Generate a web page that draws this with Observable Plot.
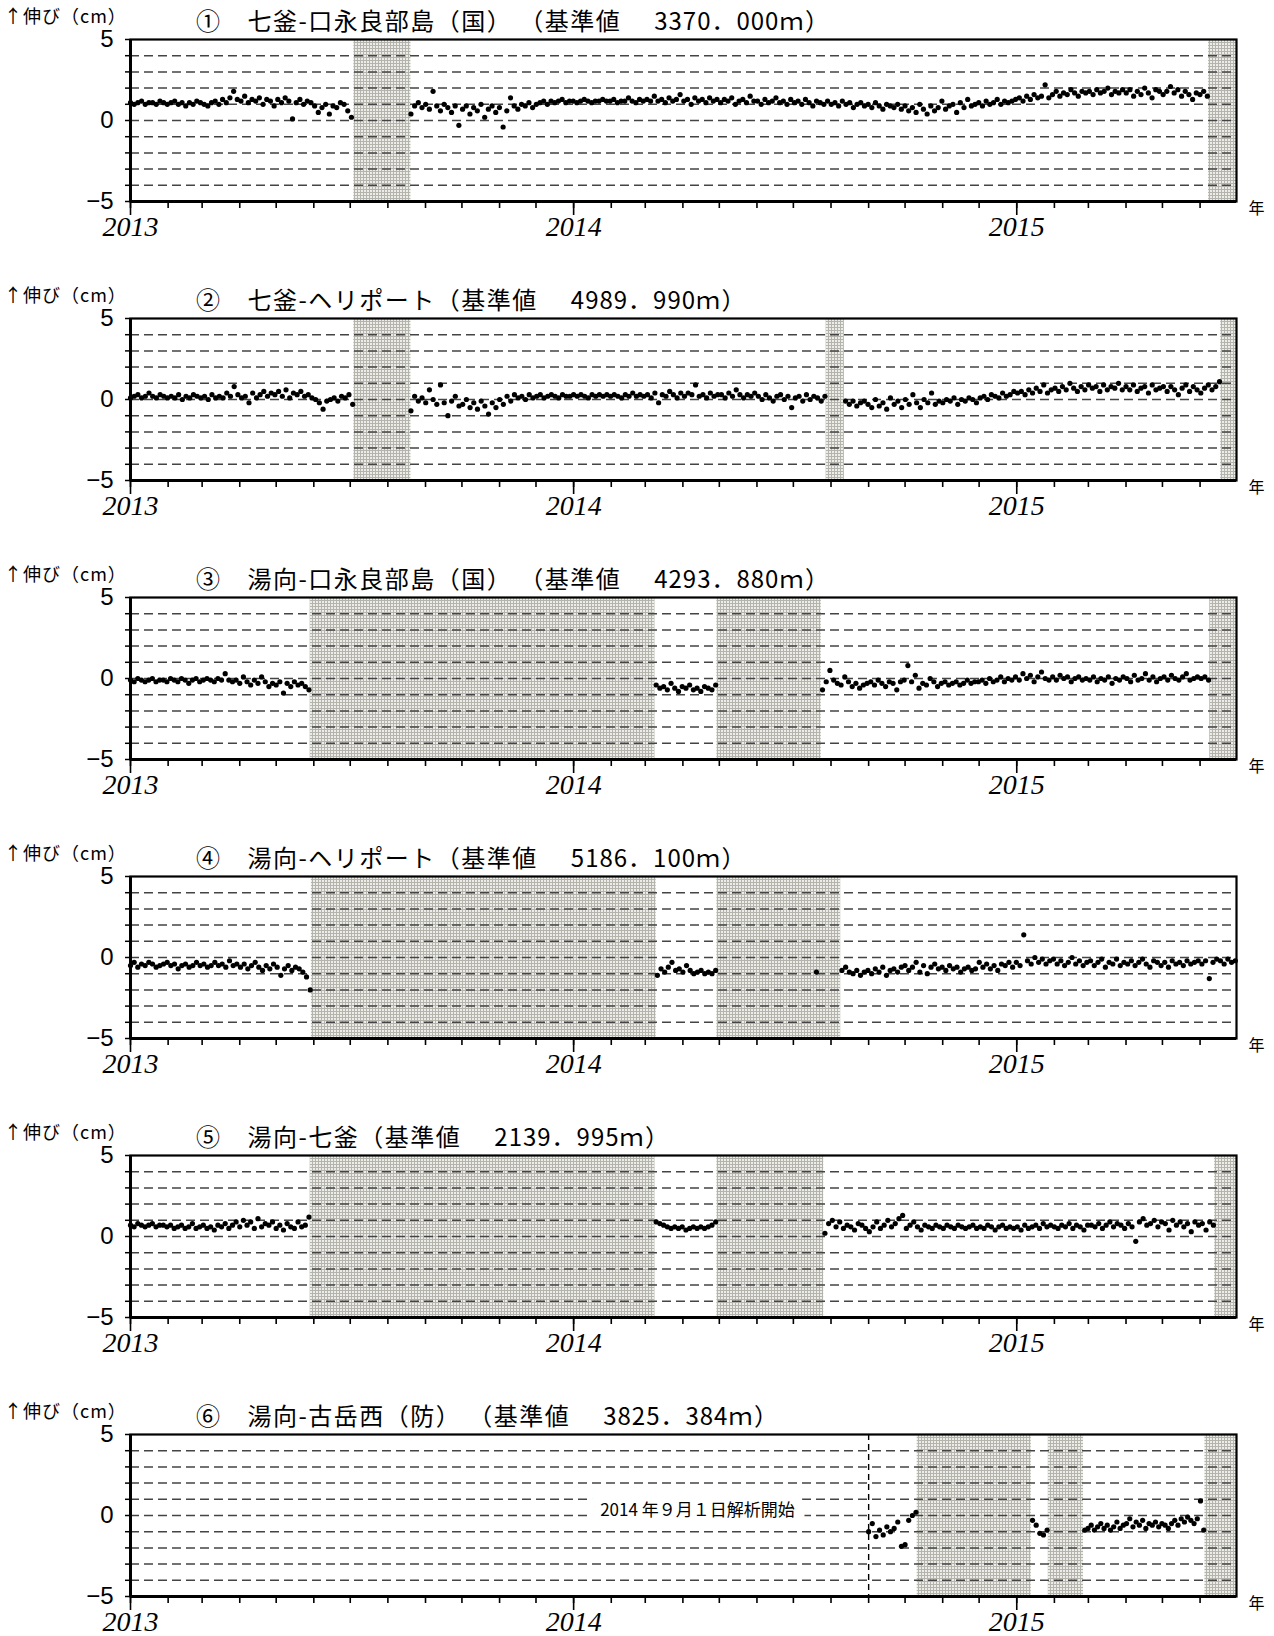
<!DOCTYPE html>
<html><head><meta charset="utf-8">
<script src="https://cdn.jsdelivr.net/npm/d3@7"></script>
<script src="https://cdn.jsdelivr.net/npm/@observablehq/plot@0.6"></script>
<style>
body{margin:0;background:#fff;width:1274px;height:1636px;overflow:hidden;}
.panel{position:relative;width:1274px;height:279px;}
.panel svg{position:absolute;left:0;top:0;}
.title{position:absolute;left:196px;top:6px;font-family:"Noto Sans CJK JP";font-size:24px;line-height:28px;white-space:nowrap;color:#000;letter-spacing:1.5px;}
.title .route{margin-left:26px;}
.title .len{margin-left:33px;letter-spacing:1px;}
.ylab{position:absolute;left:4px;top:8px;font-family:"Noto Sans CJK JP";font-size:18px;line-height:14px;height:14px;white-space:nowrap;color:#000;letter-spacing:1px;}
</style></head><body>
<svg width="0" height="0" style="position:absolute"><defs>
<pattern id="stipple" width="3" height="3" patternUnits="userSpaceOnUse">
<rect width="3" height="3" fill="#ecece8"/><rect width="3" height="1" fill="#b4b4ac"/><rect width="1" height="3" fill="#b4b4ac"/>
</pattern></defs></svg>
<div id="chart"></div>
<script>
// ---------- text ----------
const circledNumbers = ["①","②","③","④","⑤","⑥"];
const routeNames = ["七釜-口永良部島（国） （基準値","七釜-ヘリポート（基準値","湯向-口永良部島（国） （基準値","湯向-ヘリポート（基準値","湯向-七釜（基準値","湯向-古岳西（防） （基準値"];
const baseLengths = ["3370．000","4989．990","4293．880","5186．100","2139．995","3825．384"];
const yAxisLabel = "↑伸び（cm）";
const yearUnit = "年";

// ---------- axes ----------
const xDomain = ["2013-01-01","2015-07-01"];
const yearTicks = ["2013-01-01","2014-01-01","2015-01-01"];
const yTickValues = [-5,-4,-3,-2,-1,0,1,2,3,4,5];
const yLabelledTicks = [-5,0,5];
const gridValues = [-4,-3,-2,-1,0,1,2,3,4];

// ---------- missing-data (shaded) periods ----------
const gaps1 = [["2013-07-04","2013-08-20"],["2015-06-08","2015-07-01"]];
const gaps2 = [["2013-07-04","2013-08-20"],["2014-07-28","2014-08-12"],["2015-06-18","2015-07-01"]];
const gaps3 = [["2013-05-29","2014-03-09"],["2014-04-29","2014-07-24"],["2015-06-09","2015-07-01"]];
const gaps4 = [["2013-05-30","2014-03-10"],["2014-04-29","2014-08-09"]];
const gaps5 = [["2013-05-29","2014-03-09"],["2014-04-29","2014-07-26"],["2015-06-13","2015-07-01"]];
const gaps6 = [["2014-10-11","2015-01-13"],["2015-01-27","2015-02-25"],["2015-06-05","2015-07-01"]];

// ---------- series (cm), each segment spans [start, end] ----------
const p1a = [1.1,1.0,1.1,1.2,1.0,1.1,1.1,1.0,1.2,1.1,1.0,
 1.1,1.2,1.0,1.1,0.9,1.1,1.0,1.2,1.1,
 1.0,0.9,1.1,1.2,1.0,1.3,1.1,1.4,1.8,1.3,
 1.2,1.5,1.1,1.3,1.2,1.4,1.0,1.3,1.2,0.9,
 1.3,1.1,1.4,1.2,0.1,1.1,1.3,1.0,1.2,1.1,
 0.9,0.5,0.8,1.0,0.4,0.9,0.8,1.1,1.0,0.6,0.2];
const p1b = [0.4,0.9,1.1,0.8,
 1.0,0.7,1.8,0.9,0.6,1.0,0.8,0.5,0.9,-0.3,
 0.7,0.9,0.4,0.8,0.6,1.0,0.2,0.7,0.9,0.5,
 0.8,-0.4,0.6,1.4,0.9,0.7,1.0,0.9,1.1,0.8,
 1.0,1.1,1.2,1.0,1.2,1.1,1.2,1.3,1.1,1.2,
 1.2,1.1,1.2,1.3,1.2,1.1,1.2,1.2,1.3,1.2,
 1.2,1.3,1.1,1.2,1.2,1.4,1.2,1.1,1.3,1.2,
 1.3,1.2,1.5,1.2,1.3,1.1,1.4,1.2,1.3,1.6,
 1.2,1.3,1.0,1.4,1.2,1.3,1.1,1.4,1.2,1.3,
 1.1,1.3,1.2,1.4,1.0,1.2,1.3,1.1,1.5,1.2,
 1.2,1.0,1.3,1.1,1.2,1.4,1.1,1.2,1.0,1.3,
 1.1,1.2,1.0,1.3,1.1,0.9,1.2,1.1,1.0,1.2,
 1.0,1.1,0.9,1.2,1.0,1.1,0.8,1.0,1.1,0.9,
 1.0,0.8,1.1,0.9,0.7,1.0,0.9,0.8,1.0,0.7,
 0.9,0.6,0.8,0.5,1.0,0.7,0.4,0.9,0.6,0.8,
 1.2,0.7,0.9,1.0,0.5,1.1,0.8,1.3,0.9,1.0,
 1.1,0.9,1.2,1.0,1.1,1.3,1.0,1.2,1.1,1.2,
 1.3,1.4,1.2,1.5,1.3,1.6,1.4,1.5,2.2,1.4,
 1.6,1.8,1.5,1.7,1.6,1.9,1.7,1.5,1.8,1.7,
 1.8,1.6,1.9,1.7,1.8,2.0,1.6,1.8,1.7,1.9,
 1.7,1.9,1.5,1.8,1.6,2.0,1.7,1.4,1.9,1.8,
 1.6,1.8,2.1,1.7,1.9,1.5,1.8,1.6,1.3,1.7,
 1.6,1.8,1.5];

const p2a = [0.1,0.2,0.3,0.1,0.2,0.4,0.2,0.1,0.3,0.2,0.1,
 0.2,0.1,0.3,0.0,0.2,0.1,0.3,0.2,0.1,
 0.2,0.0,0.3,0.1,0.2,0.1,0.4,0.2,0.8,0.3,
 0.1,0.2,-0.2,0.4,0.1,0.3,0.5,0.2,0.4,0.3,
 0.5,0.2,0.6,0.1,0.4,0.3,0.5,0.2,0.3,0.1,
 0.0,-0.2,-0.6,-0.1,0.0,0.1,-0.1,0.2,0.1,0.3,-0.3];
const p2b = [-0.7,0.2,-0.1,0.1,
 -0.2,0.6,0.0,-0.3,0.9,-0.2,-1.0,-0.1,0.2,-0.4,
 -0.3,0.0,-0.5,-0.2,-0.6,-0.1,-0.4,-0.9,-0.2,-0.5,
 0.0,-0.3,0.2,-0.1,0.3,0.1,0.2,0.0,0.3,0.1,
 0.2,0.3,0.1,0.2,0.3,0.2,0.1,0.3,0.2,0.2,
 0.3,0.2,0.3,0.2,0.1,0.3,0.2,0.3,0.2,0.3,
 0.2,0.3,0.2,0.1,0.3,0.2,0.4,0.2,0.3,0.2,
 0.3,0.1,0.4,-0.2,0.3,0.2,0.5,0.3,0.1,0.4,
 0.2,0.4,0.3,0.9,0.2,0.3,0.1,0.4,0.2,0.3,
 0.3,0.1,0.4,0.2,0.6,0.3,0.1,0.3,0.2,0.4,
 0.2,0.0,0.3,0.1,-0.1,0.2,0.3,0.0,0.2,-0.5,
 0.1,0.2,-0.1,0.3,0.0,0.2,0.1,-0.1,0.2];
const p2c = [-0.1,-0.3,-0.1,-0.4,-0.2,-0.1,
 -0.3,-0.5,0.0,-0.4,-0.2,-0.6,0.1,-0.3,-0.1,-0.5,
 0.0,-0.3,0.3,-0.2,-0.5,0.0,-0.2,0.4,-0.3,-0.1,
 -0.2,0.0,-0.1,0.1,-0.3,0.0,-0.1,0.1,0.0,-0.2,
 0.1,0.2,0.0,0.3,0.2,0.1,0.4,0.2,0.3,0.5,
 0.4,0.5,0.3,0.6,0.4,0.7,0.5,0.9,0.4,0.6,
 0.7,0.5,0.8,0.6,1.0,0.7,0.5,0.8,0.6,0.9,
 0.7,0.8,0.5,0.9,0.6,0.8,0.7,1.0,0.6,0.8,
 0.6,0.9,0.5,0.7,0.8,0.4,0.9,0.6,0.7,0.8,
 0.5,0.8,0.6,0.3,0.7,0.9,0.5,0.8,0.6,0.4,
 0.7,0.9,0.6,0.8,1.1];

const p3a = [-0.1,-0.2,0.0,-0.1,-0.2,-0.1,0.0,-0.2,-0.1,-0.1,-0.2,
 0.0,-0.1,-0.2,0.0,-0.1,-0.3,-0.1,0.0,-0.2,
 -0.1,0.0,-0.1,-0.2,0.0,-0.1,0.3,-0.1,-0.2,-0.1,
 -0.3,0.1,-0.2,-0.4,-0.1,-0.3,0.1,-0.2,-0.5,-0.3,
 -0.4,-0.2,-0.9,-0.3,-0.5,-0.2,-0.4,-0.3,-0.5,-0.7];
const p3b = [-0.4,-0.6,-0.5,-0.7,-0.3,-0.6,-0.8,-0.5,-0.6,-0.4,-0.7,-0.6,-0.8,-0.5,-0.6,-0.7,-0.4];
const p3c = [-0.7,-0.2,0.5,-0.1,-0.3,-0.4,0.1,-0.2,-0.5,-0.3,-0.6,-0.4,
 -0.3,-0.2,-0.4,-0.1,-0.3,-0.5,-0.2,-0.3,-0.7,-0.2,
 -0.1,0.8,-0.2,0.2,-0.6,-0.3,-0.4,0.0,-0.2,-0.5,
 -0.3,-0.2,-0.4,-0.3,-0.2,-0.4,-0.3,-0.1,-0.3,-0.2,
 -0.2,-0.1,-0.3,0.0,-0.2,-0.1,0.1,-0.2,0.0,-0.1,
 0.1,-0.1,0.3,0.0,0.2,-0.2,0.1,0.4,0.0,-0.1,
 0.1,-0.1,0.2,0.0,0.1,-0.2,0.0,0.1,-0.1,0.0,
 -0.1,0.1,-0.2,0.0,-0.1,0.1,-0.3,0.0,-0.1,0.1,
 0.0,-0.2,0.2,-0.1,0.0,0.3,-0.1,0.1,-0.2,0.0,
 0.1,-0.1,0.2,0.0,-0.1,0.1,0.3,-0.1,0.0,0.1,
 0.0,0.1,-0.1];

const p4a = [-0.5,-0.3,-0.6,-0.4,-0.5,-0.3,-0.4,-0.6,-0.5,-0.4,-0.3,
 -0.5,-0.4,-0.7,-0.5,-0.4,-0.6,-0.5,-0.3,-0.5,
 -0.4,-0.6,-0.5,-0.3,-0.5,-0.4,-0.6,-0.2,-0.5,-0.4,
 -0.6,-0.4,-0.7,-0.5,-0.3,-0.6,-0.8,-0.5,-0.7,-0.4,
 -0.6,-1.1,-0.7,-0.5,-0.8,-0.6,-0.7,-0.9,-1.2,-2.0];
const p4b = [-1.1,-0.7,-0.9,-0.6,-0.3,-0.8,-0.7,-0.9,-0.5,-0.8,-1.0,-0.9,-0.8,-1.0,-0.9,-1.0,-0.8];
const p4c = [-0.9];
const p4d = [-0.8,-0.6,-0.9,-1.0,-0.8,-1.1,-0.9,
 -0.8,-1.0,-0.7,-0.9,-0.6,-1.1,-0.8,-0.7,-0.9,-0.6,
 -0.5,-0.8,-0.6,-0.3,-0.9,-0.5,-1.0,-0.6,-0.4,-0.7,
 -0.6,-0.8,-0.5,-0.7,-0.6,-0.9,-0.7,-0.6,-0.8,-0.7,
 -0.3,-0.6,-0.4,-0.7,-0.5,-0.8,-0.4,-0.5,-0.3,-0.6,
 -0.3,-0.5,1.4,-0.2,-0.4,0.0,-0.3,-0.1,-0.4,-0.2,
 -0.1,-0.4,-0.2,-0.5,-0.3,0.0,-0.4,-0.2,-0.5,-0.3,
 -0.2,-0.5,-0.3,-0.1,-0.6,-0.3,-0.4,-0.1,-0.5,-0.3,
 -0.4,-0.2,-0.5,-0.3,-0.1,-0.4,-0.6,-0.2,-0.3,-0.5,
 -0.3,-0.6,-0.2,-0.4,-0.3,-0.5,-0.2,-0.4,-0.3,-0.2,
 -0.4,-0.2,-1.3,-0.3,-0.1,-0.2,-0.4,-0.1,-0.3,-0.2];

const p5a = [0.7,0.6,0.8,0.7,0.6,0.7,0.8,0.6,0.7,0.7,0.6,
 0.7,0.5,0.6,0.7,0.5,0.6,0.8,0.5,0.6,
 0.7,0.5,0.6,0.4,0.7,0.6,0.8,0.5,0.7,0.9,
 0.6,1.0,0.7,0.9,0.5,1.1,0.6,0.8,0.7,0.9,
 0.5,0.7,0.4,0.8,0.6,0.5,0.9,0.6,0.7,1.2];
const p5b = [0.9,0.8,0.7,0.6,0.5,0.6,0.5,0.6,0.4,0.5,0.6,0.5,0.6,0.5,0.6,0.7,0.9];
const p5c = [0.2,0.8,1.0,0.6,0.9,0.5,0.7,0.6,0.4,0.8,0.7,0.5,
 0.3,0.6,0.9,0.5,0.7,1.0,0.6,0.8,1.1,1.3,
 0.5,0.7,0.9,0.6,0.4,0.7,0.6,0.5,0.7,0.6,
 0.5,0.7,0.6,0.5,0.7,0.6,0.5,0.6,0.7,0.5,
 0.6,0.5,0.7,0.6,0.4,0.6,0.7,0.5,0.6,0.5,
 0.6,0.4,0.7,0.5,0.6,0.7,0.5,0.8,0.6,0.7,
 0.6,0.5,0.7,0.6,0.8,0.5,0.7,0.6,0.4,0.7,
 0.7,0.6,0.8,0.5,0.7,0.9,0.6,0.8,0.7,0.5,
 0.8,0.6,-0.3,0.9,1.1,0.7,0.8,1.0,0.6,0.9,
 0.8,0.4,1.0,0.7,0.9,0.6,0.8,0.3,0.9,0.7,
 0.8,0.4,0.9,0.7];

const p6a = [-1.0,-0.5,-1.3,-0.9,-1.2,-0.7,-1.0,-0.8,-0.4,-1.9,-1.8,-0.3,0.0,0.2];
const p6b = [-0.3,-0.6,-1.1,-1.2,-0.9];
const p6c = [-0.9,-0.8,-0.6,-0.9,-0.7,-0.5,-0.8,-0.6,-0.9,-0.7,-0.4,-0.8,-0.6,-0.5,-0.2,-0.7,-0.4,-0.6,-0.3,-0.8,
 -0.5,-0.6,-0.4,-0.7,-0.5,-0.6,-0.8,-0.5,-0.3,-0.6,-0.2,-0.4,-0.1,-0.3,-0.5,-0.2,0.9,-0.9];

const analysisStart = "2014-09-01";
const noteText = "2014 年９月１日解析開始";
const noteDate = "2014-04-13";
const noteValue = 0.3;

// ---------- assemble ----------
const panelSegments = [
  [["2013-01-01","2013-07-02",p1a],["2013-08-20","2015-06-07",p1b]],
  [["2013-01-01","2013-07-03",p2a],["2013-08-20","2014-07-27",p2b],["2014-08-13","2015-06-17",p2c]],
  [["2013-01-01","2013-05-28",p3a],["2014-03-10","2014-04-28",p3b],["2014-07-25","2015-06-08",p3c]],
  [["2013-01-01","2013-05-29",p4a],["2014-03-11","2014-04-28",p4b],["2014-07-20","2014-07-20",p4c],["2014-08-10","2015-06-30",p4d]],
  [["2013-01-01","2013-05-28",p5a],["2014-03-10","2014-04-28",p5b],["2014-07-27","2015-06-12",p5c]],
  [["2014-09-01","2014-10-10",p6a],["2015-01-14","2015-01-26",p6b],["2015-02-26","2015-06-04",p6c]]
];
const panelGaps = [gaps1,gaps2,gaps3,gaps4,gaps5,gaps6];

const toDate = s => new Date(s + "T00:00:00Z");
const monthTicks = d3.utcMonth.range(toDate(xDomain[0]), toDate(xDomain[1]));
const fmtInt = d3.format("d");

const chart = document.getElementById("chart");

panelSegments.forEach((segs, k) => {
  const data = [];
  for (const [s, e, vals] of segs) {
    const t0 = +toDate(s), t1 = +toDate(e), n = vals.length;
    vals.forEach((v, i) => data.push({date: new Date(n > 1 ? t0 + i * (t1 - t0) / (n - 1) : t0), value: v}));
  }
  const gaps = panelGaps[k].map(([a, b]) => ({start: toDate(a), end: toDate(b)}));
  const last = k === panelSegments.length - 1;

  const marks = [
    Plot.rect(gaps, {x1: "start", x2: "end", fill: "url(#stipple)"}),
    Plot.ruleY(gridValues, {stroke: "#444", strokeWidth: 1.5, strokeDasharray: "9,5"})
  ];
  if (last) {
    marks.push(Plot.ruleX([toDate(analysisStart)], {stroke: "#000", strokeWidth: 1.4, strokeDasharray: "6,4"}));
    marks.push(Plot.text([noteText], {x: () => toDate(noteDate), y: () => noteValue, text: d => d,
      fontSize: 17, fontFamily: "Noto Sans CJK JP", fill: "#000", stroke: "#fff", strokeWidth: 22,
      strokeLinejoin: "round", paintOrder: "stroke"}));
  }
  marks.push(
    Plot.dot(data, {x: "date", y: "value", r: 2.6, fill: "#000", stroke: "none"}),
    Plot.frame({stroke: "#000", strokeWidth: 2.2}),
    Plot.ruleX([toDate(xDomain[0])], {stroke: "#000", strokeWidth: 3}),
    Plot.ruleY([-5], {stroke: "#000", strokeWidth: 3}),
    Plot.axisY({ticks: yTickValues, tickSize: 5, tickPadding: 12, strokeWidth: 1.5, label: null,
      tickFormat: d => yLabelledTicks.includes(d) ? fmtInt(d) : "",
      fontSize: 24, fontFamily: "'Liberation Sans Narrow','Arial Narrow','Liberation Sans',sans-serif"}),
    Plot.axisX({ticks: monthTicks, tickSize: 7, strokeWidth: 1.6, tickFormat: () => "", label: null}),
    Plot.axisX({ticks: yearTicks.map(toDate), tickSize: 14, tickPadding: 1, strokeWidth: 1.6, label: null,
      tickFormat: d3.utcFormat("%Y"), fontSize: 28, fontStyle: "italic",
      fontFamily: "'Liberation Serif',serif"}),
    Plot.text([yearUnit], {frameAnchor: "bottom-right", text: d => d, dx: 20, dy: 7,
      textAnchor: "middle", lineAnchor: "middle", fontSize: 16, fontFamily: "Noto Sans CJK JP", fill: "#000"})
  );

  const svg = Plot.plot({
    width: 1274, height: 241,
    marginLeft: 130, marginRight: 38, marginTop: 39, marginBottom: 40,
    x: {type: "utc", domain: xDomain.map(toDate)},
    y: {domain: [-5, 5], nice: false},
    style: {background: "transparent", color: "#000", overflow: "visible"},
    marks
  });

  const div = document.createElement("div");
  div.className = "panel";
  if (last) div.style.height = "241px";
  div.appendChild(svg);

  const ylab = document.createElement("div");
  ylab.className = "ylab";
  ylab.textContent = yAxisLabel;
  div.appendChild(ylab);

  const title = document.createElement("div");
  title.className = "title";
  const s1 = document.createElement("span"); s1.textContent = circledNumbers[k];
  const s2 = document.createElement("span"); s2.className = "route"; s2.textContent = routeNames[k];
  const s3 = document.createElement("span"); s3.className = "len"; s3.textContent = baseLengths[k];
  const s4 = document.createElement("span"); s4.textContent = "ｍ）";
  title.append(s1, s2, s3, s4);
  div.appendChild(title);

  chart.appendChild(div);
});
</script>
</body></html>
